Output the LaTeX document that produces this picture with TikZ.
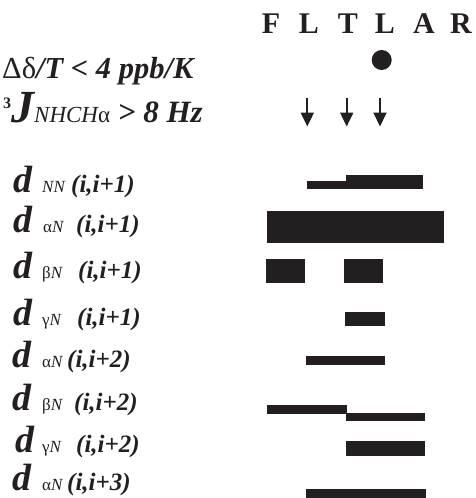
\documentclass[tikz,border=0pt]{standalone}
\usepackage{fontspec}
\setmainfont{Liberation Serif}
\usetikzlibrary{arrows.meta}
\definecolor{ink}{RGB}{35,31,32}
\begin{document}
\begin{tikzpicture}[x=1pt,y=-1pt,
  res/.style={anchor=base, inner sep=0pt, text=ink,
    font=\fontsize{30}{30}\selectfont\bfseries},
  dlet/.style={anchor=base west, inner sep=0pt, text=ink,
    font=\fontsize{38}{38}\selectfont\bfseries\itshape},
  sub/.style={anchor=base west, inner sep=0pt, text=ink,
    font=\fontsize{17}{17}\selectfont\itshape},
  pair/.style={anchor=base west, inner sep=0pt, text=ink,
    font=\fontsize{25}{25}\selectfont\bfseries\itshape},
  head/.style={anchor=base west, inner sep=0pt, text=ink},
  bar/.style={fill=ink},
  down/.style={draw=ink, line width=2pt, -{Triangle[width=13pt,length=14pt]}}]
\useasboundingbox (0,0) rectangle (476,498);

% residue sequence
\foreach \r/\x [count=\i] in {F/271,L/309,T/348,L/385,A/424,R/461}
  \node[res] (res\i) at (\x,33) {\r};

% temperature coefficient and coupling constant rows
\node[head] (tc) at (2,78) {\fontsize{30.5}{30.5}\selectfont
  {\mdseries\upshape Δδ}{\bfseries\itshape/T < 4 ppb/K}};
\node[head] (jc) at (3,122) {%
  \raisebox{14pt}{\fontsize{16}{16}\selectfont\bfseries 3}%
  {\fontsize{46}{46}\selectfont\bfseries\itshape J}%
  {\fontsize{23}{23}\selectfont\itshape NHCH}%
  {\fontsize{23}{23}\selectfont\upshape α}%
  {\fontsize{31}{31}\selectfont\bfseries\itshape\ > 8 Hz}};

% slow amide exchange marker
\fill[ink] (381.7,60) circle (10);

% large coupling arrows
\foreach \x [count=\i] in {307.3,346.7,380} {
  \coordinate (at\i) at (\x,98);
  \coordinate (ab\i) at (\x,126.5);
  \draw[down] (at\i) -- (ab\i);
}

% NOE row labels
\foreach \y/\dx/\s/\sx/\p/\px [count=\i] in {
    192/13/{NN}/42/{(i,i+1)}/71,
    232/13/{{\upshape α}N}/43/{(i,i+1)}/76,
    278/13/{{\upshape β}N}/42/{(i,i+1)}/78,
    325/13/{{\upshape γ}N}/42/{(i,i+1)}/77,
    367/12/{{\upshape α}N}/42/{(i,i+2)}/67,
    410/12/{{\upshape β}N}/42/{(i,i+2)}/74,
    452/15/{{\upshape γ}N}/42/{(i,i+2)}/76,
    490/12/{{\upshape α}N}/42/{(i,i+3)}/67} {
  \node[dlet] (d\i) at (\dx,\y) {d};
  \node[sub] (s\i) at (\sx,\y) {\s};
  \node[pair] (p\i) at (\px,\y) {\p};
}

% NOE intensity bars
\fill[bar] (307,181) rectangle (346.5,189);
\fill[bar] (346,175) rectangle (423,189);
\fill[bar] (267,211) rectangle (444,243);
\fill[bar] (266,259) rectangle (305,283);
\fill[bar] (344,259) rectangle (383,283);
\fill[bar] (345,312) rectangle (385,326);
\fill[bar] (306,356) rectangle (385,365);
\fill[bar] (267,405) rectangle (346.5,413.5);
\fill[bar] (346,413) rectangle (425,421);
\fill[bar] (346,441) rectangle (425,456);
\fill[bar] (306,489) rectangle (426,497.5);
\end{tikzpicture}
\end{document}
